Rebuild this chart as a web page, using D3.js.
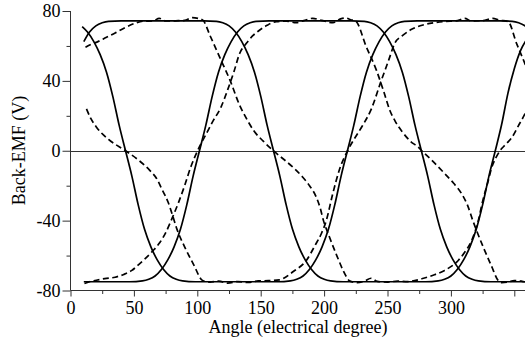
<!DOCTYPE html>
<html>
<head>
<meta charset="utf-8">
<script src="https://cdn.jsdelivr.net/npm/d3@7"></script>
<style>
  html, body { margin: 0; padding: 0; background: #fff; }
  svg { display: block; }
</style>
</head>
<body>
<svg id="chart" width="525" height="347"></svg>
<script>
// ---------- data (angle in electrical degrees, back-EMF in V) ----------
const xMajorTicks = [0, 50, 100, 150, 200, 250, 300, 350];
const xMinorTicks = [25, 75, 125, 175, 225, 275, 325];
const xTickLabels = [0, 50, 100, 150, 200, 250, 300];
const yMajorTicks = [-80, -40, 0, 40, 80];
const yMinorTicks = [-60, -20, 20, 60];
const xTitle = "Angle (electrical degree)";
const yTitle = "Back-EMF (V)";

// solid curves (three phases)
const solidA = [[9.2,71.1],[13.4,68],[18.4,62.5],[23.4,55],[28.4,45],[33.4,31],[38.4,14.5],[43.4,0],
  [48.4,-14.5],[53.4,-31],[58.4,-45],[63.4,-55],[68.4,-62.5],[73.4,-68],[78.4,-71.7],[83.4,-73.6],
  [88.4,-74.5],[98.4,-75],[163.4,-75],[173.4,-74.5],[178.4,-73.6],[183.4,-71.7],[188.4,-68],
  [193.4,-62.5],[198.4,-55],[203.4,-45],[208.4,-31],[213.4,-14.5],[218.4,0],[223.4,14.5],[228.4,31],
  [233.4,45],[238.4,55],[243.4,62.5],[248.4,68],[253.4,71.5],[258.4,73.3],[263.4,74.1],[273.4,74.3],
  [338.4,74.3],[348.4,74.1],[353.4,73.3],[358.4,71.5],[363.4,68]];
const solidB = [[10.5,62.5],[15,68],[20,71.5],[25,73.3],[30,74.1],[40,74.3],[105.1,74.3],[115.1,74.1],
  [120.1,73.3],[125.1,71.5],[130.1,68],[135.1,62.5],[140.1,55],[145.1,45],[150.1,31],[155.1,14.5],
  [160.1,0],[165.1,-14.5],[170.1,-31],[175.1,-45],[180.1,-55],[185.1,-62.5],[190.1,-68],[195.1,-71.7],
  [200.1,-73.6],[205.1,-74.5],[215.1,-75],[280,-75],[290,-74.5],[295,-73.6],[300,-71.7],[305,-68],
  [310,-62.5],[315,-55],[320,-45],[325,-31],[330,-14.5],[335,0],[340,15],[345,33],[350,47],[355,57.5],
  [360,64]];
const solidC = [[10.5,-75],[46.7,-75],[56.7,-74.5],[61.7,-73.6],[66.7,-71.7],[71.7,-68],[76.7,-62.5],
  [81.7,-55],[86.7,-45],[91.7,-31],[96.7,-14.5],[101.7,0],[106.7,14.5],[111.7,31],[116.7,45],[121.7,55],
  [126.7,62.5],[131.7,68],[136.7,71.5],[141.7,73.3],[146.7,74.1],[156.7,74.3],[221.7,74.3],[231.7,74.1],
  [236.7,73.3],[241.7,71.5],[246.7,68],[251.7,62.5],[256.7,55],[261.7,45],[266.7,31],[271.7,14.5],
  [276.7,0],[281.7,-14.5],[286.7,-31],[291.7,-45],[296.7,-55],[301.7,-62.5],[306.7,-68],[311.7,-71.7],
  [316.7,-73.6],[321.7,-74.5],[331.7,-75],[362,-75]];

// dashed curves (three phases)
const dashedA = [[12.6,24],[16,18.5],[20.5,13.5],[30,6.5],[43.4,0],[53,-5],[62.5,-11.2],[68,-16],
  [72.5,-22.6],[77,-29.5],[80.5,-37],[84,-45],[90,-55],[97,-65],[104.2,-74.3],[110,-75.2],[117,-74.6],
  [124,-75.8],[132,-74.9],[140,-75.4],[148,-74.5],[156,-74.4],[164.8,-73.9],[176,-69],[186,-62.8],
  [193,-54],[197.8,-47.5],[201.7,-40],[206.7,-25],[212,-11],[218.5,0],[224,7],[230,14],[237.3,24],
  [245,40],[251,52],[255.7,61.5],[262,66],[269,69.5],[278,72],[287.3,73.3],[296,74],[304,74.3],
  [311,75.8],[316,74.3],[325,74.5],[333,75.8],[338,74.8],[345,74],[352,61],[358.3,50],[362,43]];
const dashedB = [[11.8,59.2],[16,60.8],[22,62.6],[28,64.8],[35.2,67.4],[43,70.5],[51,73],[58,74.2],
  [65,74.3],[70,75.8],[75,74.3],[83,74.4],[90,74.6],[96,76.2],[100.5,75.8],[104.4,74.8],[110,66],
  [118,53],[126,40],[133.4,26],[138.7,18.5],[145,11],[152,5.5],[160,0],[170,-6],[177,-10.5],[183,-15],
  [188.5,-20],[193.8,-26.5],[197,-33],[199.5,-40],[203.5,-48],[210,-60],[217.5,-72],[220,-74.5],
  [226,-75.5],[232,-74.6],[237,-73],[242,-74.8],[250,-75.2],[258,-74.6],[266,-74.9],[277,-73.3],
  [287,-71],[295,-68.5],[305.8,-62.8],[311,-58],[316.4,-51.3],[321.6,-40],[325,-29],[329.5,-17],
  [332,-10],[335.5,-4],[338.7,0],[343,3.5],[348,7.5],[353,14],[358.5,21.3],[362,27]];
const dashedC = [[11,-76],[15,-75],[19.4,-74.3],[27,-73.2],[35.2,-72.4],[42,-70.8],[48.4,-68.5],
  [54,-65],[58.9,-61.8],[64.7,-57.5],[70,-53],[75,-47],[80.5,-38],[85,-30],[90,-20],[95,-9],[100.2,0],
  [104,5.5],[108,11],[112,16.5],[118.7,25],[124,35],[129,45.5],[133.4,55.7],[138.7,61.5],[144,66],
  [149,69],[155,71.8],[162.3,73.9],[170,74.2],[178,73.3],[184,74.5],[191,75.8],[198,74.6],[207,73.3],
  [213,75.5],[217,76],[221,75],[225,74.2],[233,60],[241.3,46],[247,34],[251.8,23.2],[256,17],
  [262,10.5],[268,5.5],[274,2.2],[277,0],[285,-5.5],[295,-13],[302,-18.5],[308.4,-24.5],[313,-31],
  [317.3,-40],[320.2,-45.6],[326,-56],[332,-66],[337.3,-74.3],[340,-75.5],[345,-75.2],[350,-74.3],
  [353,-74.3],[358,-75],[362,-75]];

// ---------- drawing ----------
const svg = d3.select("#chart");
const x = d3.scaleLinear().domain([0, 360]).range([70.5, 70.5 + 360 * 1.268]);
const y = d3.scaleLinear().domain([-80, 80]).range([290.5, 11]);
const axisColor = "#333";
const textColor = "#000";
const fontFamily = "'Liberation Serif', 'Times New Roman', serif";
const fontSize = 18;

// zero line
svg.append("line")
  .attr("x1", x(0)).attr("x2", 525)
  .attr("y1", Math.round(y(0)) + 0.5).attr("y2", Math.round(y(0)) + 0.5)
  .attr("stroke", axisColor).attr("stroke-width", 1);

// curves
const line = d3.line().x(d => x(d[0])).y(d => y(d[1])).curve(d3.curveMonotoneX);
const series = [
  { data: solidA, dash: null }, { data: solidB, dash: null }, { data: solidC, dash: null },
  { data: dashedA, dash: "6,3.5" }, { data: dashedB, dash: "6,3.5" }, { data: dashedC, dash: "6,3.5" }
];
svg.append("g").selectAll("path").data(series).join("path")
  .attr("d", d => line(d.data))
  .attr("fill", "none")
  .attr("stroke", "#000")
  .attr("stroke-width", 1.7)
  .attr("stroke-dasharray", d => d.dash);

// x axis
const gx = svg.append("g").attr("transform", `translate(0,290.5)`);
gx.call(d3.axisBottom(x).tickValues(xMajorTicks).tickSize(6).tickPadding(5)
  .tickFormat(d => xTickLabels.includes(d) ? String(d) : ""));
gx.append("g").call(d3.axisBottom(x).tickValues(xMinorTicks).tickSize(3.5).tickFormat(""))
  .select(".domain").remove();
gx.select(".domain").attr("d", `M${x(0)},0H525`);

// y axis
const gy = svg.append("g").attr("transform", `translate(70.5,0)`);
gy.call(d3.axisLeft(y).tickValues(yMajorTicks).tickSize(8).tickPadding(2)
  .tickFormat(d => String(d)));
gy.append("g").call(d3.axisLeft(y).tickValues(yMinorTicks).tickSize(4).tickFormat(""))
  .select(".domain").remove();
gy.select(".domain").attr("d", `M0,${y(80)}V${y(-80)}`);

svg.selectAll(".tick line, .domain").attr("stroke", axisColor).attr("stroke-width", 1);
svg.selectAll(".tick text").attr("font-size", fontSize)
  .attr("font-family", fontFamily).attr("fill", textColor);

// titles
svg.append("text").attr("x", 298).attr("y", 332.5).attr("text-anchor", "middle")
  .attr("font-family", fontFamily).attr("fill", textColor)
  .attr("font-size", fontSize).text(xTitle);
svg.append("text").attr("transform", "translate(25,150.5) rotate(-90)")
  .attr("text-anchor", "middle").attr("font-family", fontFamily).attr("fill", textColor)
  .attr("font-size", fontSize).text(yTitle);
</script>
</body>
</html>
